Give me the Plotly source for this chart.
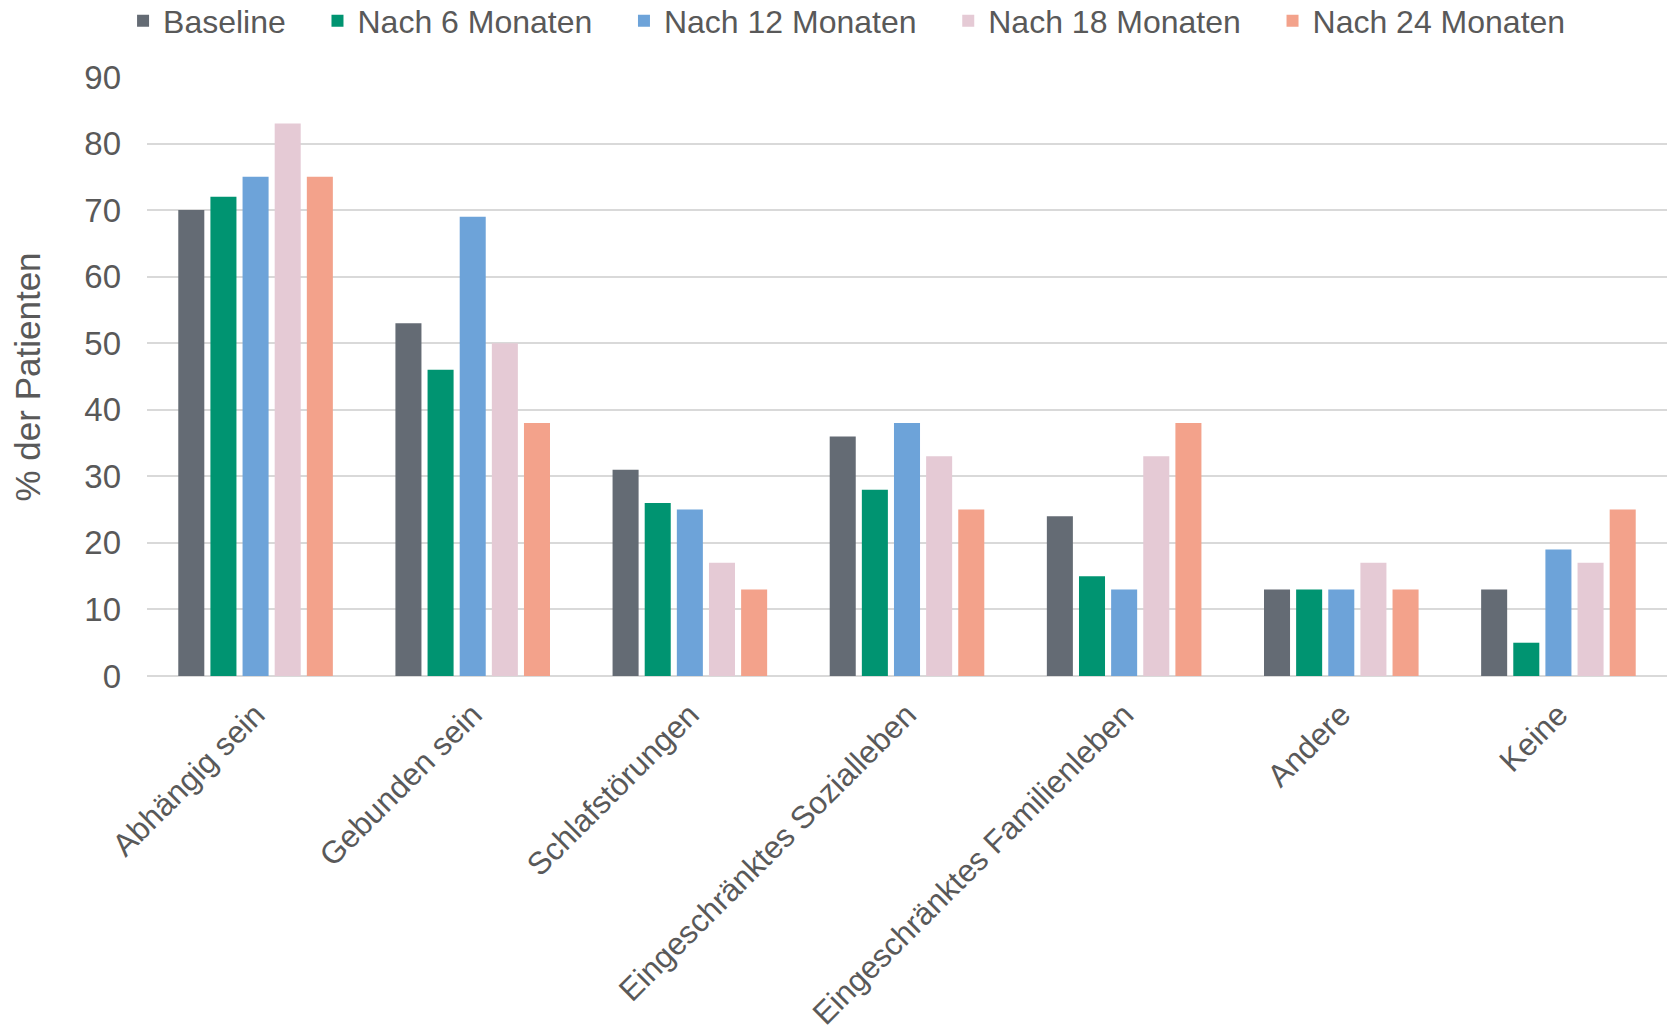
import plotly.graph_objects as go

categories = ["Abhängig sein", "Gebunden sein", "Schlafstörungen",
              "Eingeschränktes Sozialleben", "Eingeschränktes Familienleben",
              "Andere", "Keine"]
baseline = [70, 53, 31, 36, 24, 13, 13]
m6 = [72, 46, 26, 28, 15, 13, 5]
m12 = [75, 69, 25, 38, 13, 13, 19]
m18 = [83, 50, 17, 33, 33, 17, 17]
m24 = [75, 38, 13, 25, 38, 13, 25]
y_title = "% der Patienten"

series = [
    ("Baseline", baseline, "#646b74"),
    ("Nach 6 Monaten", m6, "#009471"),
    ("Nach 12 Monaten", m12, "#6da3d9"),
    ("Nach 18 Monaten", m18, "#e5cad5"),
    ("Nach 24 Monaten", m24, "#f3a28b"),
]

pad = "\u00a0\u00a0\u00a0"
fig = go.Figure()
for i, (name, vals, col) in enumerate(series):
    label = name + (pad if i < len(series) - 1 else "")
    fig.add_trace(go.Bar(x=categories, y=vals, name=label,
                         marker=dict(color=col, line=dict(width=0))))

font = "Liberation Sans, Arial, sans-serif"
fig.update_layout(
    width=1672, height=1030,
    margin=dict(l=147, r=5, t=77, b=354, autoexpand=False),
    paper_bgcolor="white", plot_bgcolor="white",
    barmode="group", bargap=0.26, bargroupgap=0.19,
    font=dict(family=font, color="#595959", size=32),
    legend=dict(orientation="h", x=0.0736, xanchor="left", xref="container",
                y=1.0935, yanchor="middle", yref="paper",
                font=dict(size=32, color="#595959"), traceorder="normal",
                itemwidth=30),
    showlegend=True,
)
fig.add_annotation(text=y_title, xref="paper", yref="paper",
                   x=-0.0783, y=0.5, xanchor="center", yanchor="middle",
                   textangle=-90, showarrow=False,
                   font=dict(size=35, color="#595959", family=font))
fig.update_yaxes(range=[0, 90], dtick=10, showgrid=True, gridcolor="#d9d9d9",
                 gridwidth=2, zeroline=True, zerolinecolor="#d9d9d9", zerolinewidth=2,
                 tickfont=dict(size=33, color="#595959"), ticklabelstandoff=25)
fig.update_xaxes(tickangle=-45, tickfont=dict(size=31.5, color="#595959"),
                 showline=False, ticks="", ticklabelstandoff=13)

fig.write_html("out.html")
